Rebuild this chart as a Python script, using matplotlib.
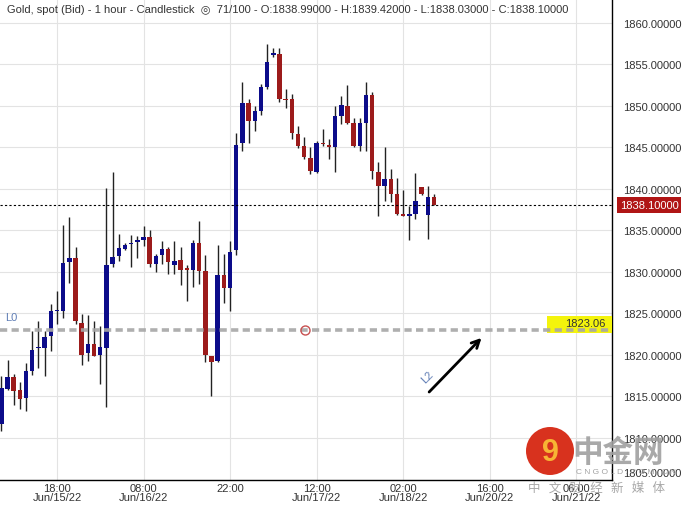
import matplotlib.pyplot as plt
from matplotlib.patches import Circle, Rectangle
from matplotlib.transforms import ScaledTranslation
import numpy as np

# hourly candles, first one sits 9 bars left of the 18:00 Jun/15 gridline
first_bar = -9
opens = [1811.7, 1815.9, 1817.4, 1815.8, 1814.8, 1818.1, 1820.8, 1820.9, 1822.3, 1825.3,
         1825.3, 1831.2, 1831.7, 1823.9, 1820.2, 1821.3, 1820.0, 1820.8, 1831.0, 1831.9,
         1832.8, 1833.4, 1833.6, 1833.9, 1834.2, 1831.0, 1832.0, 1832.8, 1830.9, 1831.4,
         1830.4, 1830.3, 1833.5, 1830.1, 1819.9, 1819.3, 1829.6, 1828.1, 1832.6, 1845.5,
         1850.4, 1848.2, 1849.4, 1852.3, 1856.2, 1856.3, 1850.8, 1850.8, 1846.6, 1845.2,
         1843.7, 1842.1, 1845.5, 1845.3, 1845.1, 1848.8, 1850.0, 1848.0, 1845.2, 1848.0,
         1851.3, 1842.0, 1840.4, 1841.2, 1839.4, 1837.0, 1836.8, 1837.0, 1840.2, 1836.9,
         1838.99]
highs = [1817.5, 1819.4, 1817.7, 1816.8, 1819.0, 1822.9, 1824.1, 1822.9, 1826.1, 1827.7,
         1835.7, 1836.6, 1833.0, 1824.9, 1824.8, 1824.1, 1823.5, 1840.1, 1842.0, 1834.6,
         1833.5, 1834.5, 1834.3, 1835.5, 1835.1, 1832.2, 1833.7, 1833.0, 1833.7, 1833.0,
         1830.8, 1833.8, 1836.2, 1832.0, 1819.9, 1833.2, 1832.2, 1833.7, 1846.8, 1852.9,
         1850.9, 1850.0, 1852.7, 1857.5, 1857.0, 1857.0, 1852.0, 1851.4, 1847.6, 1846.3,
         1845.0, 1845.8, 1847.2, 1846.0, 1850.0, 1851.2, 1852.5, 1848.6, 1848.6, 1852.9,
         1851.7, 1843.2, 1845.0, 1842.4, 1841.3, 1839.9, 1838.0, 1841.9, 1840.3, 1840.4,
         1839.42]
lows = [1810.9, 1815.8, 1814.0, 1813.5, 1813.3, 1817.6, 1818.4, 1817.5, 1820.5, 1823.7,
        1824.5, 1828.7, 1823.7, 1818.8, 1819.3, 1819.9, 1816.5, 1813.7, 1830.6, 1831.3,
        1832.7, 1830.6, 1831.7, 1833.1, 1830.6, 1830.0, 1831.0, 1829.8, 1829.8, 1828.4,
        1826.5, 1828.2, 1828.5, 1819.1, 1815.1, 1819.2, 1826.3, 1825.3, 1832.0, 1844.6,
        1845.6, 1847.0, 1848.9, 1852.0, 1855.9, 1850.5, 1849.8, 1846.0, 1844.9, 1843.6,
        1841.8, 1841.9, 1845.2, 1843.6, 1842.0, 1847.8, 1847.8, 1845.1, 1844.6, 1844.6,
        1841.2, 1836.8, 1838.6, 1838.4, 1836.9, 1836.8, 1833.9, 1836.4, 1839.3, 1834.0,
        1838.03]
closes = [1816.0, 1817.4, 1815.7, 1814.7, 1818.1, 1820.6, 1820.9, 1822.2, 1825.3, 1825.4,
          1831.1, 1831.7, 1824.1, 1820.0, 1821.3, 1819.9, 1821.0, 1830.8, 1831.8, 1832.9,
          1833.3, 1833.5, 1833.9, 1834.2, 1831.0, 1831.9, 1832.8, 1831.2, 1831.3, 1830.2,
          1830.3, 1833.5, 1830.1, 1820.0, 1819.2, 1829.6, 1828.1, 1832.4, 1845.3, 1850.4,
          1848.2, 1849.4, 1852.3, 1855.3, 1856.3, 1850.8, 1850.7, 1846.7, 1845.2, 1843.9,
          1842.2, 1845.6, 1845.4, 1845.1, 1848.8, 1850.1, 1848.0, 1845.2, 1848.0, 1851.3,
          1842.2, 1840.4, 1841.2, 1839.4, 1837.0, 1836.8, 1837.0, 1838.6, 1839.4, 1839.0,
          1838.10]

tick_bars = [0, 14, 28, 42, 56, 70, 84]
tick_labels = ['18:00\nJun/15/22', '08:00\nJun/16/22', '22:00', '12:00\nJun/17/22',
               '02:00\nJun/18/22', '16:00\nJun/20/22', '06:00\nJun/21/22']
price_ticks = list(range(1805, 1865, 5))

last_price = 1838.10
level_l0 = 1823.06
header = ('Gold, spot (Bid) - 1 hour - Candlestick  \u25ce  71/100 - O:1838.99000 - '
          'H:1839.42000 - L:1838.03000 - C:1838.10000')

up_color = '#0c0c8a'
down_color = '#9c1b1b'
label_blue = '#5f7db5'
text_color = '#333333'
fs = 8

plt.rcParams['font.family'] = ['Liberation Sans', 'DejaVu Sans']

fig = plt.figure(figsize=(6.83, 5.06), dpi=100)
ax = fig.add_axes([0, 25 / 506, 612 / 683, 481 / 506])
ax.set_xlim(-9.22, 89.8)
ax.set_ylim(1804.94, 1862.89)

# candles
x = np.arange(len(opens)) + first_bar
o = np.array(opens)
c = np.array(closes)
colors = np.where(c >= o, up_color, down_color)
bottoms = np.minimum(o, c)
heights = np.maximum(np.abs(c - o), 0.15)
ax.vlines(x, lows, highs, color='#222222', lw=1, zorder=2)
ax.bar(x, heights, bottom=bottoms, width=0.72, color=colors, linewidth=0, zorder=3)

# grid and axes
ax.set_yticks(price_ticks)
ax.set_yticklabels(['%.5f' % p for p in price_ticks])
ax.set_xticks(tick_bars)
ax.set_xticklabels(tick_labels, linespacing=0.95)
ax.grid(color='#e3e3e3', lw=0.8)
ax.set_axisbelow(True)
ax.yaxis.tick_right()
ax.tick_params(axis='y', length=0, pad=8, labelsize=fs, labelcolor=text_color)
ax.tick_params(axis='x', length=0, pad=2, labelsize=fs, labelcolor=text_color)
for side in ['left', 'top']:
    ax.spines[side].set_visible(False)
for side in ['right', 'bottom']:
    ax.spines[side].set_color('black')
    ax.spines[side].set_linewidth(1)

# lowest price label is pushed up so it stays clear of the bottom edge
lowest = ax.get_yticklabels()[0]
lowest.set_transform(lowest.get_transform() + ScaledTranslation(0, 8 / 100, fig.dpi_scale_trans))

yt = ax.get_yaxis_transform()

# current price line and label
ax.axhline(last_price, color='black', lw=0.8, ls=(0, (2, 2)), zorder=4)
ax.text(1.013, last_price, '%.5f' % last_price, transform=yt, ha='left', va='center',
        color='white', fontsize=fs, clip_on=False,
        bbox=dict(boxstyle='square,pad=0.25', fc='#b01515', ec='none'))

# L0 level
ax.add_patch(Rectangle((0.894, level_l0 - 0.36), 0.106, 2.0, transform=yt,
                       fc='#f4f40c', ec='none', zorder=3))
ax.axhline(level_l0, color='#a6a6a6', lw=2.6, ls=(0, (2, 1.2)), alpha=0.9, zorder=4)
ax.text(0.99, level_l0 + 0.85, '%.2f' % level_l0, transform=yt, ha='right', va='center',
        fontsize=fs, color=text_color, zorder=5)
ax.plot(40.1, level_l0, 'o', ms=6.5, mfc='none', mec='#c85050', mew=1, zorder=5)
ax.text(0.008, 1824.6, 'L0', transform=yt, color=label_blue, fontsize=fs, va='center')

# L2 arrow
ax.annotate('', xy=(69.0, 1822.3), xytext=(59.9, 1815.3),
            arrowprops=dict(arrowstyle='->', color='black', lw=2, mutation_scale=14))
ax.text(60.0, 1817.35, 'L2', rotation=45, color=label_blue, fontsize=fs,
        ha='center', va='center')

# header
fig.text(7 / 683, 1 - 10 / 506, header, fontsize=fs, color=text_color, va='center')

# watermark
fig.patches.append(Circle((5.50, 0.54), 0.24, transform=fig.dpi_scale_trans,
                          fc='#d8321e', ec='none', zorder=10))
fig.text(5.50 / 6.83, 0.53 / 5.06, '9', fontsize=22, fontweight='bold', color='#f7b534',
         ha='center', va='center', zorder=11)
fig.text(618 / 683, 1 - 453 / 506, '中金网', family=['Noto Sans CJK SC', 'DejaVu Sans'],
         fontsize=22, fontweight='bold', color='#a0a0a0', alpha=0.9,
         ha='center', va='center', zorder=11)
fig.text(626 / 683, 1 - 473 / 506, 'C N G O L D . C O M . C N', fontsize=6, color='#a3a3a3',
         ha='center', va='center', zorder=11)
fig.text(597 / 683, 1 - 488 / 506, '中   文   财   经   新   媒   体',
         family=['Noto Sans CJK SC', 'DejaVu Sans'], fontsize=9, color='#a8a8a8',
         ha='center', va='center', zorder=11)

fig.savefig('out.png', dpi=100)
